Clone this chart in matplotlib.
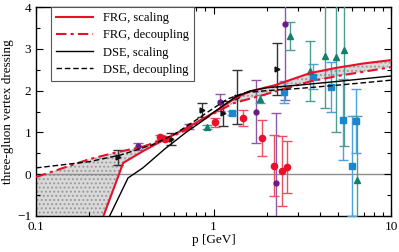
import numpy as np
import matplotlib
matplotlib.use("Agg")
import matplotlib.pyplot as plt

plt.rcParams["font.family"] = ["Liberation Serif", "DejaVu Serif"]
plt.rcParams["hatch.color"] = "#9a9a9a"
plt.rcParams["hatch.linewidth"] = 0.9

# curves (momentum in GeV, dressing)
frg_scal_p = [0.24, 0.31, 0.4, 0.53, 0.7, 0.85, 1.02, 1.15, 1.33, 1.6, 2.22, 3.5, 5.0, 7.0, 10.0]
frg_scal_y = [-1.0, 0.27, 0.55, 0.83, 1.1, 1.3, 1.49, 1.65, 1.82, 1.98, 2.13, 2.42, 2.55, 2.65, 2.73]
frg_dec_p = [0.1, 0.2, 0.27, 0.4, 0.55, 0.7, 0.85, 1.0, 1.3, 2.0, 3.5, 5.0, 10.0]
frg_dec_y = [-0.07, 0.36, 0.5, 0.66, 0.86, 1.05, 1.27, 1.45, 1.7, 1.92, 2.22, 2.35, 2.56]
dse_scal_p = [0.26, 0.33, 0.4, 0.53, 0.7, 0.85, 1.0, 1.1, 1.33, 1.6, 2.0, 3.0, 5.0, 10.0]
dse_scal_y = [-1.0, -0.09, 0.15, 0.6, 1.0, 1.25, 1.48, 1.6, 1.85, 1.99, 2.07, 2.13, 2.22, 2.35]
dse_dec_p = [0.1, 0.2, 0.3, 0.45, 0.6, 0.8, 1.0, 1.2, 1.5, 2.0, 3.0, 5.0, 10.0]
dse_dec_y = [0.15, 0.3, 0.46, 0.7, 0.95, 1.3, 1.58, 1.8, 1.95, 2.0, 2.05, 2.13, 2.25]

# lattice data
blk_p = [0.29, 0.575, 0.86, 1.13, 1.35, 2.28]
blk_y = [0.41, 0.84, 1.54, 1.46, 1.85, 2.52]
blk_e = [0.18, 0.15, 0.17, 0.3, 0.65, 0.62]

pur_p = [0.376, 0.73, 1.09, 1.73, 2.25, 2.53]
pur_y = [0.67, 1.15, 1.72, 1.5, -0.21, 3.59]
pur_e = [0.08, 0.06, 0.2, 0.75, 1.67, 1.81]

red_p = [0.5, 0.53, 1.02, 1.47, 1.87, 2.19, 2.43, 2.6]
red_y = [0.88, 0.85, 1.24, 1.34, 0.87, 0.2, 0.08, 0.17]
red_e = [0.05, 0.05, 0.1, 0.19, 0.43, 0.73, 0.84, 0.63]

blu_p = [1.27, 2.5, 3.64, 4.6, 5.37, 6.03, 6.35]
blu_y = [1.46, 1.97, 2.33, 2.09, 1.3, 0.2, 1.27]
blu_e = [0.05, 0.26, 0.3, 0.6, 0.97, 1.2, 0.77]

grn_p = [0.92, 1.83, 2.7, 3.5, 4.25, 4.9, 5.43, 6.43]
grn_y = [1.13, 1.8, 3.31, 2.47, 2.83, 2.8, 2.97, -0.14]
grn_e = [0.05, 0.1, 0.33, 0.72, 1.25, 1.8, 2.3, 1.53]

RED = "#e8102a"

fig = plt.figure(figsize=(3.99, 2.52), dpi=100)
ax = fig.add_axes([0.0902, 0.143, 0.8898, 0.829])

# shaded band between the two FRG solutions
poly_x = frg_dec_p + frg_scal_p[::-1] + [0.1]
poly_y = frg_dec_y + frg_scal_y[::-1] + [-1.0]
ax.fill(poly_x, poly_y, facecolor="#d9d9d9", edgecolor="#9a9a9a", hatch="....", linewidth=0, zorder=1)

ax.axhline(0, color="#8c8c8c", lw=1.0, zorder=1)

ax.plot(frg_scal_p, frg_scal_y, color=RED, lw=1.5, label="FRG, scaling", zorder=4)
ax.plot(frg_dec_p, frg_dec_y, color=RED, lw=1.5, ls=(0, (5, 2, 1.5, 2)), label="FRG, decoupling", zorder=4)
ax.plot(dse_scal_p, dse_scal_y, color="black", lw=1.0, label="DSE, scaling", zorder=4)
ax.plot(dse_dec_p, dse_dec_y, color="black", lw=1.0, ls=(0, (4, 2)), label="DSE, decoupling", zorder=4)

sets = [
    (blk_p, blk_y, blk_e, "#111111", "#333333", ">", 3.5),
    (pur_p, pur_y, pur_e, "#6a1b8a", "#8c5aa8", "o", 3.5),
    (red_p, red_y, red_e, RED, "#ee5060", "o", 4.5),
    (blu_p, blu_y, blu_e, "#1a86d0", "#4aa3e0", "s", 4),
    (grn_p, grn_y, grn_e, "#12806c", "#4a9f90", "^", 4),
]
for px, py, pe, mc, ec, mk, ms in sets:
    ax.errorbar(px, py, yerr=pe, fmt=mk, color=mc, ecolor=ec, ms=ms,
                elinewidth=1.0, capsize=3.5, capthick=1.0, zorder=3)

ax.set_xscale("log")
ax.set_xlim(0.1, 10)
ax.set_ylim(-1, 4)
ax.set_yticks([-1, 0, 1, 2, 3, 4])
ax.set_yticks(np.arange(-0.5, 4, 1), minor=True)
ax.set_xticks([0.1, 1, 10])
ax.set_xticklabels(["0.1", "1", "10"])
ax.tick_params(which="both", direction="in", top=True, right=True, labelsize=9.5)
ax.tick_params(which="major", length=5, width=0.8)
ax.tick_params(which="minor", length=3, width=0.8)
for s in ax.spines.values():
    s.set_linewidth(1.0)

ax.set_xlabel("p [GeV]", fontsize=9.5, labelpad=1)
ax.set_ylabel("three-gluon vertex dressing", fontsize=9.5, labelpad=2)

leg = ax.legend(loc="upper left", bbox_to_anchor=(0.042, 1.0), fontsize=9, handlelength=3.0,
                fancybox=False, framealpha=1, edgecolor="#555555", borderaxespad=0,
                labelspacing=0.42, borderpad=0.4)
leg.get_frame().set_linewidth(0.8)

fig.savefig("out.png", dpi=100)
